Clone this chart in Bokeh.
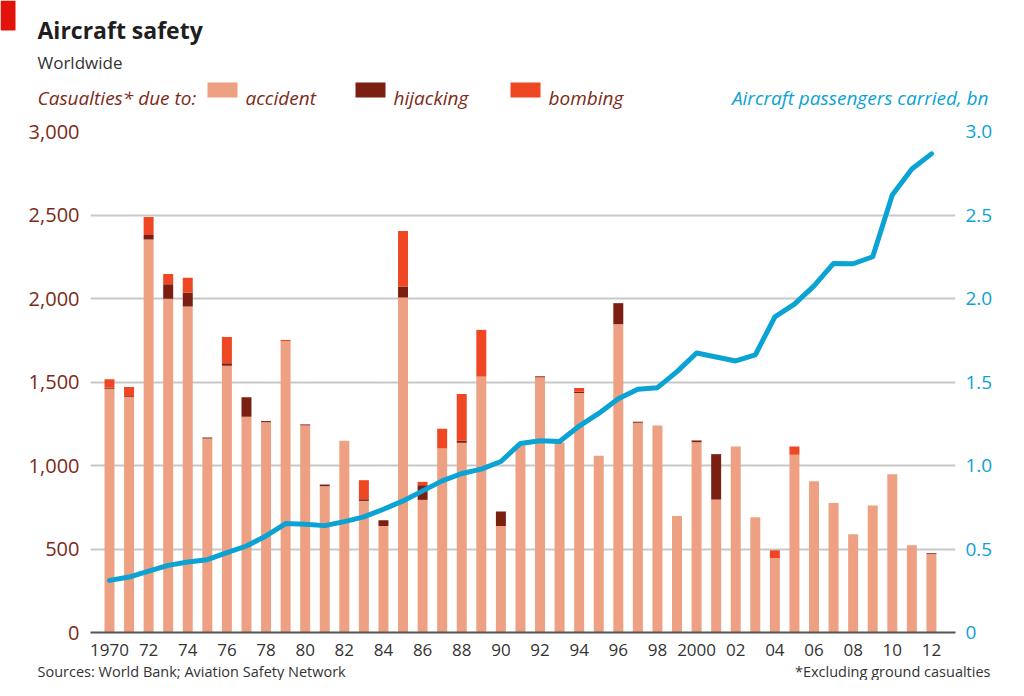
from bokeh.plotting import figure
from bokeh.layouts import column
from bokeh.models import (Range1d, LinearAxis, FixedTicker, NumeralTickFormatter,
                          CustomJSTickFormatter, ColumnDataSource)
from bokeh.core.properties import value
from bokeh.embed import file_html
from bokeh.resources import INLINE

years = list(range(1970, 2013))
accident = [1460, 1412, 2354, 1998, 1952, 1162, 1598, 1292, 1260, 1744,
            1240, 876, 1148, 788, 638, 2006, 794, 1102, 1136, 1532,
            638, 1120, 1528, 1138, 1434, 1058, 1846, 1256, 1240, 698,
            1140, 796, 1114, 690, 446, 1064, 906, 776, 588, 760,
            948, 522, 472]
hijacking = [6, 4, 26, 88, 82, 6, 14, 116, 6, 0,
             6, 10, 0, 10, 34, 66, 88, 0, 12, 0,
             86, 0, 6, 0, 8, 0, 126, 6, 0, 0,
             10, 272, 0, 0, 0, 0, 0, 0, 0, 0,
             0, 0, 4]
bombing = [50, 54, 108, 60, 90, 0, 158, 0, 0, 8,
           0, 0, 0, 114, 0, 332, 20, 118, 280, 280,
           0, 0, 0, 0, 22, 0, 0, 0, 0, 0,
           0, 0, 0, 0, 46, 50, 0, 0, 0, 0,
           0, 0, 0]
passengers_bn = [0.312, 0.332, 0.368, 0.402, 0.422, 0.436, 0.478, 0.518, 0.578, 0.652,
                 0.648, 0.640, 0.664, 0.692, 0.738, 0.788, 0.848, 0.908, 0.952, 0.978,
                 1.024, 1.132, 1.148, 1.144, 1.236, 1.312, 1.400, 1.456, 1.466, 1.562,
                 1.674, 1.650, 1.626, 1.662, 1.890, 1.966, 2.076, 2.210, 2.208, 2.250,
                 2.620, 2.776, 2.866]
left_ticks = [0, 500, 1000, 1500, 2000, 2500, 3000]
right_ticks = [0, 0.5, 1.0, 1.5, 2.0, 2.5, 3.0]
x_tick_years = list(range(1970, 2013, 2))
x_tick_labels = ["1970", "72", "74", "76", "78", "80", "82", "84", "86", "88", "90",
                 "92", "94", "96", "98", "2000", "02", "04", "06", "08", "10", "12"]
legend_names = ["accident", "hijacking", "bombing"]

C_ACC = "#eea083"
C_HIJ = "#7a1f12"
C_BOMB = "#ef4623"
C_BLUE = "#0aa3d3"
C_BROWN = "#7c2b18"
FONT = "Open Sans"
W = 1008
H_HEAD, H_MAIN, H_FOOT = 112, 548, 20


def no_align(f):
    try:
        f.frame_align = False
    except Exception:
        pass


def blank(h):
    f = figure(width=W, height=h, output_backend="svg", toolbar_location=None, title=None,
               x_range=Range1d(0, W), y_range=Range1d(h, 0),
               x_axis_type=None, y_axis_type=None, min_border=0)
    f.xgrid.visible = False
    f.ygrid.visible = False
    f.outline_line_color = None
    no_align(f)
    return f


def txt(f, s, x, y, size, color, style="normal", align="left"):
    f.text(x=[x], y=[y], text=[s], text_font=value(FONT), text_font_size=size,
           text_color=color, text_font_style=style, text_align=align,
           text_baseline="alphabetic")


# ---------------- header ----------------
head = blank(H_HEAD)
head.quad(left=[0], right=[15], top=[0], bottom=[30], fill_color="#e3120b", line_color=None)
txt(head, "Aircraft safety", 37, 29, "23px", "#1e1e1e", "bold")
txt(head, "Worldwide", 37, 62, "17px", "#333333")
txt(head, "Casualties* due to:", 37, 97, "19px", C_BROWN, "italic")
sw_left = [207, 355, 510]
for name, col, lx in zip(legend_names, [C_ACC, C_HIJ, C_BOMB], sw_left):
    head.quad(left=[lx], right=[lx + 30], top=[82], bottom=[97], fill_color=col, line_color=None)
    txt(head, name, lx + 38, 97, "19px", C_BROWN, "italic")
txt(head, "Aircraft passengers carried, bn", 988, 97, "19px", C_BLUE, "italic", "right")

# ---------------- main chart ----------------
src = ColumnDataSource(dict(year=years, accident=accident, hijacking=hijacking, bombing=bombing))

p = figure(width=W, height=H_MAIN, output_backend="svg", toolbar_location=None, title=None,
           x_range=Range1d(1969.03, 2013.23), y_range=Range1d(0, 3000),
           min_border_left=90, min_border_right=53, min_border_top=19, min_border_bottom=28)
p.outline_line_color = None
no_align(p)
p.extra_y_ranges = {"pax": Range1d(0, 3.0)}

p.vbar_stack(["accident", "hijacking", "bombing"], x="year", width=0.51,
             color=[C_ACC, C_HIJ, C_BOMB], line_color=None, source=src)
p.line(years, passengers_bn, y_range_name="pax", line_color=C_BLUE, line_width=5,
       line_join="round", line_cap="round")

p.xgrid.visible = False
p.ygrid.ticker = FixedTicker(ticks=left_ticks)
p.ygrid.grid_line_color = "#c8c8c8"
p.ygrid.grid_line_width = 2

ya = p.yaxis[0]
ya.ticker = FixedTicker(ticks=left_ticks)
ya.formatter = NumeralTickFormatter(format="0,0")
ya.axis_line_color = None
ya.major_tick_line_color = None
ya.minor_tick_line_color = None
ya.major_label_standoff = 5
ya.major_label_text_color = C_BROWN
ya.major_label_text_font = FONT
ya.major_label_text_font_size = "20px"

ra = LinearAxis(y_range_name="pax", ticker=FixedTicker(ticks=right_ticks),
                formatter=CustomJSTickFormatter(code="return tick == 0 ? '0' : tick.toFixed(1);"))
ra.axis_line_color = None
ra.major_tick_line_color = None
ra.minor_tick_line_color = None
ra.major_label_standoff = 4
ra.major_label_text_color = C_BLUE
ra.major_label_text_font = FONT
ra.major_label_text_font_size = "19px"
p.add_layout(ra, "right")

xa = p.xaxis[0]
xa.ticker = FixedTicker(ticks=x_tick_years)
xa.major_label_overrides = {y: l for y, l in zip(x_tick_years, x_tick_labels)}
xa.axis_line_color = "#555555"
xa.axis_line_width = 2
xa.major_tick_line_color = None
xa.minor_tick_line_color = None
xa.major_label_standoff = 5
xa.major_label_text_color = "#333333"
xa.major_label_text_font = FONT
xa.major_label_text_font_size = "17px"

# ---------------- footer ----------------
foot = blank(H_FOOT)
txt(foot, "Sources: World Bank; Aviation Safety Network", 37, 11, "14.5px", "#333333")
txt(foot, "*Excluding ground casualties", 990, 11, "14.5px", "#333333", "normal", "right")

layout = column(head, p, foot, spacing=0)
open("out.html", "w").write(file_html(layout, INLINE))
